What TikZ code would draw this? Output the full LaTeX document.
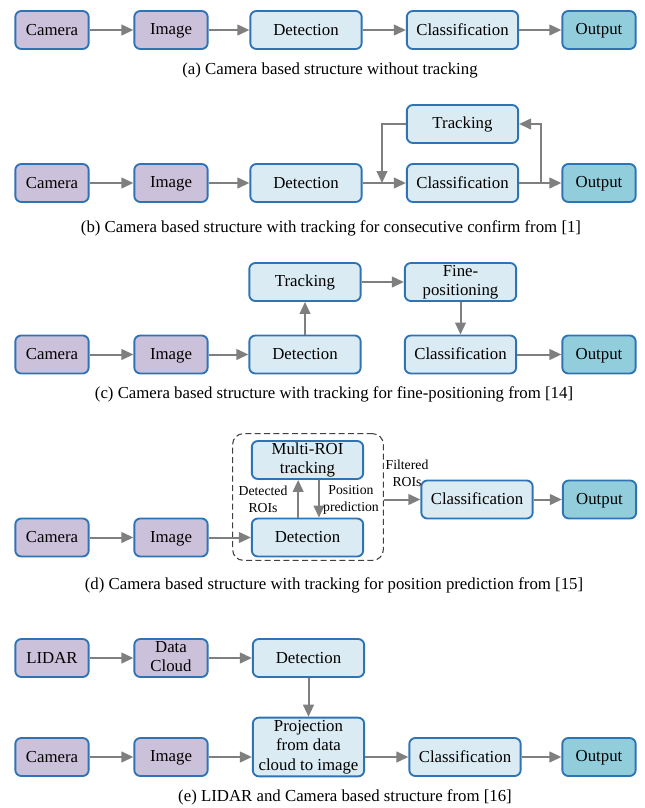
\documentclass[tikz,border=0pt]{standalone}
\usepackage{fontspec}
\setmainfont{Liberation Serif}
\usetikzlibrary{positioning, arrows.meta}
\definecolor{boxline}{HTML}{2E74B5}
\definecolor{sensorfill}{HTML}{CCC1DA}
\definecolor{procfill}{HTML}{DBEBF3}
\definecolor{outfill}{HTML}{92CDDC}
\definecolor{linkgray}{HTML}{7F7F7F}
\definecolor{grpline}{HTML}{404040}
\newcommand{\boxstrut}{\rule[-2pt]{0pt}{12pt}}
\tikzset{>={Triangle[length=9pt,width=8pt]}}
\tikzset{
    blk/.style={draw=boxline, line width=1.4pt, rounded corners=4.5pt, align=center, inner sep=0pt, minimum height=28.5pt, font=\fontsize{12.6}{14.6}\selectfont, execute at begin node=\boxstrut},
    sensor/.style={blk, fill=sensorfill, minimum width=55pt},
    proc/.style={blk, fill=procfill, minimum width=83.5pt},
    outbox/.style={blk, fill=outfill, minimum width=55pt},
    link/.style={->, draw=linkgray, line width=1.5pt},
    subcap/.style={font=\fontsize{12.6}{14.6}\selectfont, inner sep=0pt},
    lbl/.style={font=\fontsize{10.3}{12.7}\selectfont, align=center, inner sep=0pt},
    grpbox/.style={draw=grpline, line width=0.8pt, dash pattern=on 4.5pt off 2.5pt, rounded corners=8pt, minimum width=113pt, minimum height=95pt}
}

\begin{document}
\begin{tikzpicture}[x=0.75pt, y=-0.75pt]
    \useasboundingbox (0,0) rectangle (644,808);

    % (a)
    \node[sensor] (camA) at (52,30) {Camera};
    \node[sensor] (imgA) at (171,30) {Image};
    \node[proc] (detA) at (306,30) {Detection};
    \node[proc] (clsA) at (462.5,30) {Classification};
    \node[outbox] (outA) at (599,30) {Output};
    \draw[link] (camA) -- (imgA);
    \draw[link] (imgA) -- (detA);
    \draw[link] (detA) -- (clsA);
    \draw[link] (clsA) -- (outA);
    \node[subcap] (capA) at (330,70) {(a) Camera based structure without tracking};

    % (b)
    \node[sensor] (camB) at (52,183) {Camera};
    \node[sensor] (imgB) at (171,183) {Image};
    \node[proc] (detB) at (306,183) {Detection};
    \node[proc] (clsB) at (462.5,183) {Classification};
    \node[outbox] (outB) at (599,183) {Output};
    \node[proc] (trkB) at (462.5,124) {Tracking};
    \coordinate (mrgB) at (382,183);
    \coordinate (fbkB) at (541,183);
    \draw[link] (camB) -- (imgB);
    \draw[link] (imgB) -- (detB);
    \draw[link] (detB) -- (clsB);
    \draw[link] (clsB) -- (outB);
    \draw[link] (trkB.west) -| (mrgB);
    \draw[link] (fbkB) |- (trkB.east);
    \node[subcap] (capB) at (331,228) {(b) Camera based structure with tracking for consecutive confirm from [1]};

    % (c)
    \node[sensor] (camC) at (52,354.5) {Camera};
    \node[sensor] (imgC) at (171,354.5) {Image};
    \node[proc] (detC) at (305,354.5) {Detection};
    \node[proc] (trkC) at (305,282) {Tracking};
    \node[proc] (finC) at (460.5,282) {Fine-\\positioning};
    \node[proc] (clsC) at (460.5,354.5) {Classification};
    \node[outbox] (outC) at (599,354.5) {Output};
    \draw[link] (camC) -- (imgC);
    \draw[link] (imgC) -- (detC);
    \draw[link] (detC) -- (trkC);
    \draw[link] (trkC) -- (finC);
    \draw[link] (finC) -- (clsC);
    \draw[link] (clsC) -- (outC);
    \node[subcap] (capC) at (334,394) {(c) Camera based structure with tracking for fine-positioning from [14]};

    % (d)
    \node[grpbox] (grpD) at (308,497) {};
    \node[sensor] (camD) at (52,537.5) {Camera};
    \node[sensor] (imgD) at (171,537.5) {Image};
    \node[proc] (trkD) at (307.5,460) {Multi-ROI\\tracking};
    \node[proc] (detD) at (307.5,537.5) {Detection};
    \node[proc] (clsD) at (477,499.5) {Classification};
    \node[outbox] (outD) at (599.5,499.5) {Output};
    \draw[link] (camD) -- (imgD);
    \draw[link] (imgD) -- (detD);
    \draw[link] ([xshift=-7pt]detD.north) -- ([xshift=-7pt]trkD.south);
    \draw[link] ([xshift=8.6pt]trkD.south) -- ([xshift=8.6pt]detD.north);
    \draw[link] (grpD.east |- clsD) -- (clsD);
    \draw[link] (clsD) -- (outD);
    \node[lbl] (dtlD) at (263,499.5) {Detected\\ROIs};
    \node[lbl] (pplD) at (351,499.5) {Position\\prediction};
    \node[lbl] (ftlD) at (407,473.5) {Filtered\\ROIs};
    \node[subcap] (capD) at (334,585) {(d) Camera based structure with tracking for position prediction from [15]};

    % (e)
    \node[sensor] (lidE) at (52,658) {LIDAR};
    \node[sensor] (dcdE) at (171,658) {Data\\Cloud};
    \node[proc] (detE) at (308.5,658) {Detection};
    \node[proc, minimum height=44pt] (prjE) at (308.5,747) {Projection\\from data\\cloud to image};
    \node[sensor] (camE) at (52,757) {Camera};
    \node[sensor] (imgE) at (171,757) {Image};
    \node[proc] (clsE) at (465,757) {Classification};
    \node[outbox] (outE) at (599,757) {Output};
    \draw[link] (lidE) -- (dcdE);
    \draw[link] (dcdE) -- (detE);
    \draw[link] (detE) -- (prjE);
    \draw[link] (camE) -- (imgE);
    \draw[link] (imgE) -- (prjE.west |- imgE);
    \draw[link] (prjE.east |- clsE) -- (clsE);
    \draw[link] (clsE) -- (outE);
    \node[subcap] (capE) at (345,797) {(e) LIDAR and Camera based structure from [16]};
\end{tikzpicture}
\end{document}
